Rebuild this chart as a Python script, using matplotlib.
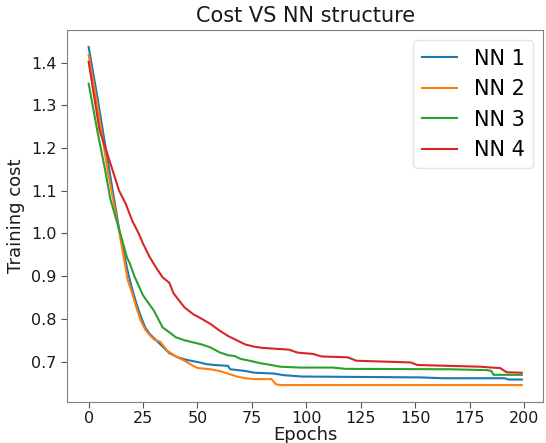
import matplotlib
matplotlib.use("Agg")
import matplotlib.pyplot as plt

# values (epoch, training cost)
nn1_epochs = [0, 4, 9.5, 14, 18, 20, 22, 24, 26, 28, 31, 34, 37, 41, 45, 51, 54, 58, 64, 65,
              72, 76, 85, 90, 98, 152, 163, 191, 193, 199]
nn1_cost = [1.437, 1.32, 1.148, 1.01, 0.91, 0.87, 0.835, 0.805, 0.78, 0.765, 0.75, 0.735, 0.72,
            0.71, 0.704, 0.698, 0.694, 0.692, 0.690, 0.682, 0.678, 0.674, 0.672, 0.668, 0.665,
            0.663, 0.661, 0.661, 0.658, 0.658]

nn2_epochs = [0, 4, 8.7, 14, 18, 20, 22, 24, 26, 28, 30, 33, 36, 40, 44, 48, 50, 56, 60, 64,
              68, 72, 76, 84, 86, 88, 199]
nn2_cost = [1.418, 1.30, 1.148, 1.005, 0.89, 0.86, 0.825, 0.795, 0.775, 0.762, 0.752, 0.746,
            0.726, 0.712, 0.702, 0.69, 0.685, 0.682, 0.678, 0.672, 0.665, 0.661, 0.659, 0.659,
            0.647, 0.645, 0.645]

nn3_epochs = [0, 4, 7.6, 10, 13.7, 17.6, 19, 21, 25, 30, 34, 38, 40, 44, 48, 52, 56, 60, 64,
              67, 70, 74, 79, 84, 88, 97, 112, 118, 166, 183, 185, 186, 199]
nn3_cost = [1.351, 1.24, 1.148, 1.08, 1.015, 0.944, 0.929, 0.90, 0.855, 0.819, 0.78, 0.765,
            0.757, 0.75, 0.745, 0.74, 0.733, 0.722, 0.715, 0.713, 0.706, 0.702, 0.696, 0.692,
            0.688, 0.686, 0.686, 0.683, 0.682, 0.680, 0.678, 0.669, 0.669]

nn4_epochs = [0, 5, 10, 14, 17, 20, 23, 25, 28, 31, 34, 37, 39, 42, 44, 48, 52, 56, 60, 64,
              68, 72, 76, 80, 92, 96, 103, 107, 119, 123, 148, 151, 180, 185, 189, 192, 199]
nn4_cost = [1.402, 1.242, 1.164, 1.10, 1.07, 1.03, 1.00, 0.976, 0.945, 0.92, 0.897, 0.885,
            0.86, 0.84, 0.827, 0.811, 0.80, 0.788, 0.773, 0.760, 0.750, 0.740, 0.735, 0.732,
            0.728, 0.721, 0.718, 0.712, 0.710, 0.702, 0.698, 0.692, 0.688, 0.686, 0.685,
            0.675, 0.674]

series = [
    ("NN 1", nn1_epochs, nn1_cost, "#1f77b4"),
    ("NN 2", nn2_epochs, nn2_cost, "#ff7f0e"),
    ("NN 3", nn3_epochs, nn3_cost, "#2ca02c"),
    ("NN 4", nn4_epochs, nn4_cost, "#d62728"),
]


def plot():
    fig = plt.figure(figsize=(5.46, 4.43), dpi=100)
    ax = fig.add_axes([0.1227, 0.0926, 0.8727, 0.8397])
    for label, x, y, color in series:
        ax.plot(x, y, color=color, linewidth=1.5, label=label)
    ax.set_title("Cost VS NN structure", fontsize=15, color="#1a1a1a")
    ax.set_xlabel("Epochs", fontsize=13, color="#1a1a1a", labelpad=0)
    ax.set_ylabel("Training cost", fontsize=13, color="#1a1a1a")
    ax.set_xticks([0, 25, 50, 75, 100, 125, 150, 175, 200])
    ax.set_yticks([0.7, 0.8, 0.9, 1.0, 1.1, 1.2, 1.3, 1.4])
    ax.tick_params(labelsize=11.5, labelcolor="#1a1a1a", color="#555555", length=4)
    ax.tick_params(axis="x", pad=2.5)
    for s in ax.spines.values():
        s.set_color("#808080")
    leg = ax.legend(loc="upper right", fontsize=15, handlelength=1.7)
    leg.get_frame().set_edgecolor("#dddddd")
    fig.savefig("out.png", dpi=100)


plot()
